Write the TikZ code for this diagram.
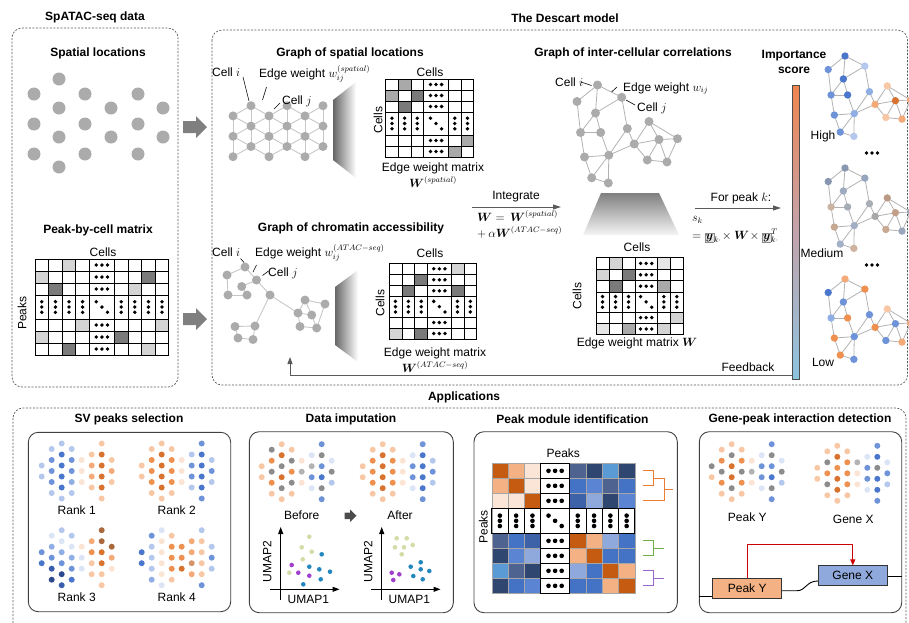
\documentclass[tikz,border=0pt,12pt]{standalone}
\usepackage{amsmath}
\usepackage{fontspec}
\setmainfont{Liberation Sans}
\usetikzlibrary{arrows.meta}

% ---------- palette ----------
\definecolor{bA}{HTML}{DCE5F6}\definecolor{bB}{HTML}{B4C7EC}\definecolor{bC}{HTML}{8FAEE3}
\definecolor{bD}{HTML}{6E93D9}\definecolor{bE}{HTML}{4A76CC}\definecolor{bF}{HTML}{3A5DAE}
\definecolor{bG}{HTML}{2E4A8E}
\definecolor{oA}{HTML}{FCE4D4}\definecolor{oB}{HTML}{F8C8A6}\definecolor{oC}{HTML}{F3AA78}
\definecolor{oD}{HTML}{EE9150}\definecolor{oE}{HTML}{D8722F}\definecolor{oF}{HTML}{A9683E}
\definecolor{oT}{HTML}{D4956C}
\definecolor{gA}{HTML}{8C8C8C}\definecolor{gB}{HTML}{B3B3B3}
% medium-score graph tones
\definecolor{mdA}{HTML}{8B97AE}\definecolor{mdB}{HTML}{97A5BE}\definecolor{mdC}{HTML}{8795B0}
\definecolor{mdD}{HTML}{9EAAC0}\definecolor{mdE}{HTML}{BA9A84}\definecolor{mdF}{HTML}{CDB4A2}
\definecolor{mdG}{HTML}{A7ADB6}\definecolor{mdH}{HTML}{A9ADB4}\definecolor{mdI}{HTML}{A8A8A8}
\definecolor{mdJ}{HTML}{C29F88}\definecolor{mdK}{HTML}{A0A8B8}\definecolor{mdL}{HTML}{C7A893}
\definecolor{mdM}{HTML}{A2AEC4}\definecolor{mdN}{HTML}{C9A993}\definecolor{mdO}{HTML}{9AA6BC}
\definecolor{mdP}{HTML}{A4B0C8}\definecolor{mdQ}{HTML}{CFB29F}
% matrix greys
\definecolor{mxV}{HTML}{E6E6E6}\definecolor{mxL}{HTML}{D4D4D4}\definecolor{mxM}{HTML}{A9A9A9}
\definecolor{mxD}{HTML}{7A7A7A}
% heatmap
\definecolor{hmO}{HTML}{C55A11}\definecolor{hmL}{HTML}{F4B183}\definecolor{hmV}{HTML}{FBE5D6}
\definecolor{hmN}{HTML}{2F4770}\definecolor{hmS}{HTML}{4E6390}\definecolor{hmB}{HTML}{4472C4}
\definecolor{hmM}{HTML}{5B85D2}\definecolor{hmP}{HTML}{8FA9DC}\definecolor{hmT}{HTML}{5B9BD5}
\definecolor{hmD}{HTML}{3D62A8}
% scatter
\definecolor{scO}{HTML}{D5DBA6}\definecolor{scP}{HTML}{A040CC}\definecolor{scT}{HTML}{2388BD}
% misc
\definecolor{arrg}{HTML}{7F7F7F}\definecolor{lineg}{HTML}{5A5A5A}
\definecolor{cbTop}{HTML}{F0854F}\definecolor{cbMid}{HTML}{C3A3AC}\definecolor{cbBot}{HTML}{8CC4E0}
\definecolor{dOr}{HTML}{ED7D31}\definecolor{dGr}{HTML}{70AD47}\definecolor{dPu}{HTML}{9966CC}

\tikzset{
  lbl/.style={inner sep=0pt,font=\normalsize},
  ttl/.style={inner sep=0pt,font=\normalsize\bfseries},
  fml/.style={inner sep=0pt,font=\normalsize,text height=7pt,text depth=1pt},
  dashbox/.style={draw=black!65,dash pattern=on 2pt off 1.5pt,line width=0.7pt,rounded corners=10pt},
  panel/.style={draw=black!75,line width=0.9pt,rounded corners=10pt},
  sedge/.style={draw=black!22,line width=0.9pt},
  cedge/.style={draw=black!30,line width=0.8pt},
  sdot/.style={fill=black!33},
  mline/.style={draw=black,line width=0.8pt},
  hline/.style={draw=black!35,line width=0.4pt},
  leader/.style={draw=black,line width=0.6pt},
  garrow/.style={draw=lineg,line width=1pt,-{Triangle[length=8pt,width=5pt]}},
  genebox/.style={draw=black!80,line width=0.8pt,minimum width=69pt,minimum height=20pt,inner sep=0pt,font=\normalsize},
}

% ---------- grid matrix helpers ----------
\newcommand\matgeom[8]{\def\mx{#1}\def\my{#2}\def\mcw{#3}\def\mdw{#4}\def\mrh{#5}\def\mdh{#6}\def\mnL{#7}\def\mnT{#8}}
\newcommand\cellat[2]{%
  \pgfmathsetmacro\ax{\mx+((#1)-1)*\mcw+(((#1)>\mnL+1)?(\mdw-\mcw):0)}%
  \pgfmathsetmacro\aw{(((#1)==\mnL+1)?\mdw:\mcw)}%
  \pgfmathsetmacro\ay{\my+((#2)-1)*\mrh+(((#2)>\mnT+1)?(\mdh-\mrh):0)}%
  \pgfmathsetmacro\ah{(((#2)==\mnT+1)?\mdh:\mrh)}}
\newcommand\fillcells[1]{\foreach \cc/\rr/\fc in {#1}{\cellat{\cc}{\rr}\fill[\fc] (\ax,\ay) rectangle ++(\aw,\ah);}}
\newcommand\gridcells[3]{\foreach \cc in {1,...,#1}{\foreach \rr in {1,...,#2}{\cellat{\cc}{\rr}\draw[#3] (\ax,\ay) rectangle ++(\aw,\ah);}}}
\newcommand\dotcells[2]{%
  \pgfmathtruncatemacro\dcol{\mnL+1}\pgfmathtruncatemacro\drow{\mnT+1}%
  \foreach \rr in {1,...,#2}{\cellat{\dcol}{\rr}%
    \pgfmathsetmacro\cx{\ax+\aw/2}\pgfmathsetmacro\cy{\ay+\ah/2}%
    \ifnum\rr=\drow
      \foreach \q in {-1,0,1}{\fill (\cx+\q*\mds,\cy+\q*\mdv) circle (\mdr pt);}%
    \else
      \foreach \q in {-1,0,1}{\fill (\cx+\q*\mds,\cy) circle (\mdr pt);}%
    \fi}%
  \foreach \cc in {1,...,#1}{\ifnum\cc=\dcol\else\cellat{\cc}{\drow}%
    \pgfmathsetmacro\cx{\ax+\aw/2}\pgfmathsetmacro\cy{\ay+\ah/2}%
    \foreach \q in {-1,0,1}{\fill (\cx,\cy+\q*\mdv) circle (\mdr pt);}\fi}}

% ---------- spot pattern (34 spots) ----------
\def\spX{{0,0,1,1,1,1,1,2,2,2,2,2,2,3,3,3,3,3,4,4,4,5,5,5,5,6,6,6,6,6,6,7,7,7}}
\def\spY{{-5.5,5.5,-22,-11,0,11,22,-27.5,-16.5,-5.5,5.5,16.5,27.5,-22,-11,0,11,22,-11,0,11,-16.5,-5.5,5.5,16.5,-27.5,-16.5,-5.5,5.5,16.5,27.5,-11,0,11}}
\newcommand\spots[3]{\foreach \cc [count=\k from 0] in {#3}{%
  \pgfmathsetmacro\px{#1+10*\spX[\k]}\pgfmathsetmacro\py{#2+\spY[\k]}%
  \fill[\cc] (\px,\py) circle (3pt);}}

% ---------- correlation graph (17 cells) ----------
\newcommand\corrgraph[4]{%
  \begin{scope}[shift={(#1,#2)},scale=#3]
    \foreach \n/\px/\py in {1/0/0,2/24.2/12.3,3/-20.5/16.5,4/-2/28,5/51.5/36.5,6/-17/47.5,7/3.2/47.5,8/29.8/43.5,9/36.7/59,10/61.5/54.5,11/80/53.7,12/-13/72,13/11.3/70.2,14/49.8/75,15/69.5/77,16/-5.8/92.8,17/10.8/98}
      \coordinate (cg\n) at (\px,\py);
    \foreach \a/\b in {1/2,1/3,1/4,2/4,2/8,3/6,4/6,4/7,6/7,6/12,7/13,8/9,8/13,9/13,12/13,12/16,13/16,13/17,16/17,5/9,5/10,5/11,9/10,10/11,9/14,10/14,10/15,11/15,14/15}
      \draw[cedge] (cg\a) -- (cg\b);
    \foreach \cc [count=\k] in {#4}
      \fill[\cc] (cg\k) circle (4.5pt);
  \end{scope}}

\newcommand\boxy{{\setlength{\fboxsep}{0.5pt}\setlength{\fboxrule}{0.4pt}\fcolorbox{black!45}{black!10}{$\boldsymbol{y}$}}}
\newcommand\ellip[2]{\foreach \q in {-1,0,1}{\fill (#1+\q*5.5,#2) circle (1.9pt);}}

\begin{document}
\begin{tikzpicture}[x=1pt,y=-1pt]
\useasboundingbox (0,0) rectangle (909,622);
\clip (0,0) rectangle (909,622);

% ================= frames and titles =================
\draw[dashbox] (12,28) rectangle (178,387);
\draw[dashbox] (212,30) rectangle (907.5,385);
\draw[dashbox] (13,408) rectangle (906,640);
\node[ttl] (tData) at (95,17) {SpATAC-seq data};
\node[ttl] (tModel) at (565,18) {The Descart model};
\node[ttl] (tApps) at (464,397) {Applications};

% ================= SpATAC-seq data =================
\node[ttl] (tLoc) at (98,53) {Spatial locations};
\foreach \xx/\ys [count=\k] in {34/{94,124,154},59/{79,108,137,167},85/{94,124,154},111/{108,137},138/{94,124,154},163/{108,137}}
  \foreach \yy in \ys \fill[black!33] (\xx,\yy) circle (6.5pt);

\fill[arrg] (183,121) -- (196,121) -- (196,116) -- (207,127) -- (196,138) -- (196,133) -- (183,133) -- cycle;
\fill[arrg] (183,313) -- (196,313) -- (196,308) -- (207,319) -- (196,330) -- (196,325) -- (183,325) -- cycle;

\node[ttl] (tPbc) at (98,230) {Peak-by-cell matrix};
\node[lbl] (pbcCells) at (103,252) {Cells};
\node[lbl,rotate=90] (pbcPeaks) at (22,313) {Peaks};
\matgeom{35}{259}{13.6}{25}{12}{24}{4}{3}
\def\mdr{1.9}\def\mds{5.6}\def\mdv{5.3}
\fillcells{3/1/mxL,1/2/mxL,8/2/mxD,2/3/mxD,7/3/mxL,4/5/mxL,9/5/mxL,1/6/mxL,6/6/mxD,3/7/mxD,8/7/mxL}
\gridcells{9}{7}{mline}
\dotcells{9}{7}

% ================= graph of spatial locations =================
\node[ttl] (tGs) at (350,53) {Graph of spatial locations};
\foreach \cc/\xx in {1/233,3/269,5/305}{\foreach \rr in {1,3,5}{\coordinate (h\cc\rr) at (\xx,105.7+10.2*\rr);}}
\foreach \cc/\xx in {2/251,4/287,6/323}{\foreach \rr in {0,2,4}{\coordinate (h\cc\rr) at (\xx,105.7+10.2*\rr);}}
\foreach \a/\b in {h11/h13,h13/h15,h31/h33,h33/h35,h51/h53,h53/h55,h20/h22,h22/h24,h40/h42,h42/h44,h60/h62,h62/h64}
  \draw[sedge] (\a) -- (\b);
\foreach \cc/\dd in {1/2,3/4,5/6}{\foreach \a/\b in {1/0,1/2,3/2,3/4,5/4}{\draw[sedge] (h\cc\a) -- (h\dd\b);}}
\foreach \cc/\dd in {2/3,4/5}{\foreach \a/\b in {0/1,2/1,2/3,4/3,4/5}{\draw[sedge] (h\cc\a) -- (h\dd\b);}}
\foreach \n in {h11,h13,h15,h20,h22,h24,h31,h33,h35,h40,h42,h44,h51,h53,h55,h60,h62,h64}
  \fill[sdot] (\n) circle (4.5pt);
\node[lbl,anchor=base west] (sCi) at (212,76.5) {Cell $i$};
\node[lbl,anchor=base west] (sEw) at (259,77.5) {Edge weight $w_{ij}^{(spatial)}$};
\node[lbl,anchor=base west] (sCj) at (282,104.5) {Cell $j$};
\draw[leader] (243,77) -- (249,101);
\draw[leader] (266.5,87) -- (262.5,100);
\draw[leader] (280,103) -- (274,109);
\shade[left color=black!60,right color=white] (333,100) -- (356,82) -- (356,178) -- (333,160) -- cycle;

\node[lbl] (wsCells) at (430,72) {Cells};
\node[lbl,rotate=90] (wsCellsL) at (378,120) {Cells};
\matgeom{385.7}{79}{12.6}{25}{11}{23}{3}{3}
\fillcells{2/1/mxM,1/2/mxM,3/2/mxD,2/3/mxD,6/5/mxM,5/6/mxM}
\gridcells{6}{6}{mline}
\dotcells{6}{6}
\node[lbl] (wsLbl) at (433,168) {Edge weight matrix};
\node[lbl] (wsSym) at (433,182) {$\boldsymbol{W}^{(spatial)}$};

% ================= graph of chromatin accessibility =================
\node[ttl] (tGa) at (351,228) {Graph of chromatin accessibility};
\foreach \n/\px/\py in {a/245/267,b/256.5/280,c/227/275,d/228/295,e/241.7/286.5,f/247/295,g/270/295,h/235/326.5,i/255/326,j/238/338,k/253/339.5,l/305/300,m/325/304,n/298/313,o/311.7/315,p/300/326.5,q/316.7/328}
  \coordinate (at\n) at (\px,\py);
\foreach \a/\b in {a/b,a/c,c/d,d/f,f/e,e/b,b/g,g/i,i/h,h/j,j/k,k/i,g/n,n/l,l/m,m/q,q/p,p/n,n/o,o/q,l/o}
  \draw[sedge] (at\a) -- (at\b);
\foreach \n in {a,b,c,d,e,f,g,h,i,j,k,l,m,n,o,p,q}
  \fill[sdot] (at\n) circle (4.5pt);
\node[lbl,anchor=base west] (aCi) at (212,256.5) {Cell $i$};
\node[lbl,anchor=base west] (aEw) at (255,256.5) {Edge weight $w_{ij}^{(ATAC-seq)}$};
\node[lbl,anchor=base west] (aCj) at (268,276.5) {Cell $j$};
\draw[leader] (240.5,258.5) -- (244,262.5);
\draw[leader] (256.5,265) -- (253,272);
\draw[leader] (268.5,271) -- (262.5,275.5);
\shade[left color=black!60,right color=white] (335,287) -- (358,270) -- (358,362) -- (335,345) -- cycle;

\node[lbl] (waCells) at (430,253) {Cells};
\node[lbl,rotate=90] (waCellsL) at (380,303) {Cells};
\matgeom{389}{263.3}{12.9}{23.3}{11}{20.7}{3}{3}
\fillcells{5/1/mxL,3/2/mxD,2/3/mxD,5/3/mxD,1/6/mxL,3/6/mxD}
\gridcells{6}{6}{mline}
\dotcells{6}{6}
\node[lbl] (waLbl) at (435,353) {Edge weight matrix};
\node[lbl] (waSym) at (435,367) {$\boldsymbol{W}^{(ATAC-seq)}$};

% ================= integration =================
\coordinate (intL) at (472,207);
\coordinate (intR) at (561,207);
\draw[garrow] (intL) -- (intR);
\node[lbl] (intTxt) at (516,197) {Integrate};
\node[fml,anchor=base west] (fW1) at (477,221.5) {$\boldsymbol{W}=\,\boldsymbol{W}^{(spatial)}$};
\node[fml,anchor=base west] (fW2) at (477,237.5) {$+\,\alpha\boldsymbol{W}^{(ATAC-seq)}$};

% ================= inter-cellular graph =================
\node[ttl] (tGi) at (633,53) {Graph of inter-cellular correlations};
\corrgraph{597.5}{85}{1}{black!33,black!33,black!33,black!33,black!33,black!33,black!33,black!33,black!33,black!33,black!33,black!33,black!33,black!33,black!33,black!33,black!33}
\node[lbl,anchor=base west] (iCi) at (555,86) {Cell $i$};
\node[lbl,anchor=base west] (iEw) at (623,91) {Edge weight $w_{ij}$};
\node[lbl,anchor=base west] (iCj) at (637,111) {Cell $j$};
\draw[leader] (581,82) -- (591.5,85.5);
\draw[leader] (617,87) -- (611.5,92);
\draw[leader] (635,105) -- (626,100);
\shade[top color=black!50,bottom color=black!4] (601,193) -- (659,193) -- (679,235) -- (583,235) -- cycle;

\node[lbl] (wCells) at (637,247) {Cells};
\node[lbl,rotate=90] (wCellsL) at (577,296) {Cells};
\matgeom{596}{257.7}{13}{22.3}{11.4}{20}{3}{3}
\fillcells{2/1/mxL,5/1/mxV,1/2/mxL,3/2/mxD,2/3/mxD,5/3/mxM,6/5/mxL,1/6/mxV,3/6/mxM,5/6/mxL}
\gridcells{6}{6}{mline}
\dotcells{6}{6}
\node[lbl] (wLbl) at (637,343) {Edge weight matrix $\boldsymbol{W}$};

% ================= importance score =================
\coordinate (pkL) at (695,208);
\coordinate (pkR) at (781,208);
\draw[garrow] (pkL) -- (pkR);
\node[lbl] (pkTxt) at (741,198) {For peak $k$:};
\node[fml,anchor=base west] (fS1) at (692,221.5) {$s_k$};
\node[fml,anchor=base west] (fS2) at (692,239) {$=\boxy_{k\cdot}\!\times\boldsymbol{W}\!\times\boxy^{T}_{k\cdot}$};

\node[ttl,align=center] (tImp) at (794,62) {Importance\\score};
\node[draw=black!70,line width=0.8pt,minimum width=7pt,minimum height=294pt,inner sep=0pt,
      top color=cbTop,bottom color=cbBot,middle color=cbMid] (cbar) at (795.8,232) {};
\node[lbl] (lHigh) at (823,136) {High};
\node[lbl] (lMed) at (822,253) {Medium};
\node[lbl] (lLow) at (823,362) {Low};
\ellip{872}{153}
\ellip{872}{265}

\corrgraph{845}{56}{0.82}{bE,bB,bD,bE,oB,bD,bE,bC,oC,oE,oC,bD,bC,oB,oC,bD,bB}
\corrgraph{845}{168}{0.82}{mdA,mdB,mdC,mdD,mdE,mdF,mdG,mdH,mdI,mdJ,mdK,mdL,mdM,mdN,mdO,mdP,mdQ}
\corrgraph{845}{279}{0.82}{oC,oD,bE,bD,oB,bC,oD,bD,oD,bD,oC,oD,bD,bD,oC,oD,bD}

% feedback loop
\coordinate (fbR) at (cbar.west |- 0,375);
\coordinate (fbL) at (290,375);
\coordinate (fbT) at (290,357);
\draw[draw=lineg,line width=1pt,-{Triangle[length=7pt,width=5pt]}] (fbR) -- (fbL) -- (fbT);
\node[lbl] (fbTxt) at (748,367) {Feedback};

% ================= applications =================
% SV peaks selection
\node[ttl] (tSv) at (129,419.3) {SV peaks selection};
\draw[panel] (28.3,432.3) rectangle (230.7,611.7);
\spots{41.7}{471}{bB,bB, bB,bD,bD,bD,bB, bB,bE,bE,bE,bE,bB, bB,bD,bD,bC,bB, oA,oA,oA, oB,oC,oC,oB, oB,oE,oE,oE,oE,oB, oB,oC,oB}
\spots{141.7}{471}{oB,oB, oB,oD,oD,oD,oB, oB,oE,oE,oE,oE,oB, oB,oD,oD,oD,oB, oA,oA,oA, bB,bD,bD,bB, bD,bE,bE,bE,bE,bD, bB,bD,bB}
\spots{41.7}{557.7}{bD,bE, bA,bC,bD,bF,bG, bB,bA,bC,bD,bG,bF, bB,bA,bC,bD,bE, oA,bA,bA, oC,oD,oB,oB, oF,oF,oE,oE,oB,oB, oF,oC,oA}
\spots{141.7}{557.7}{bE,bE, bD,bB,bB,bB,bC, bA,oA,oA,oA,oA,bA, oB,oD,oD,oD,oB, oD,oD,oE, oC,oC,oT,oC, bB,oB,oB,oB,oB,bD, bB,bD,bB}
\node[lbl] (r1) at (76.7,510) {Rank 1};
\node[lbl] (r2) at (176.7,510) {Rank 2};
\node[lbl] (r3) at (76.7,596.7) {Rank 3};
\node[lbl] (r4) at (176.7,596.7) {Rank 4};

% Data imputation
\node[ttl] (tImpu) at (351,419.3) {Data imputation};
\draw[panel] (249.3,431.7) rectangle (453.3,612.7);
\spots{261.7}{471.7}{oB,oB, gA,oD,gA,oD,oB, oB,oE,gA,oE,gA,oB, oB,gA,oD,gA,oB, oA,gB,oA, bA,gB,bD,bA, bD,gA,bD,bE,gA,bD, bA,gA,bB}
\spots{362.7}{471.7}{oB,oB, oB,oD,oD,oD,oB, oB,oE,oE,oE,oE,oB, oB,oD,oD,oD,oB, oA,oA,oA, bA,bD,bD,bA, bD,bE,bE,bE,bE,bD, bB,bD,bB}
\node[lbl] (lBefore) at (301.7,515.7) {Before};
\node[lbl] (lAfter) at (400,515.7) {After};
\fill[black!70] (344.5,512.5) -- (350,512.5) -- (350,509.5) -- (356.5,515.7) -- (350,522) -- (350,519) -- (344.5,519) -- cycle;
% UMAP panels
\foreach \ox/\tag in {0/a,101/b}{
  \coordinate (ux\tag0) at (270+\ox,589.3);
  \coordinate (ux\tag1) at (339.5+\ox,589.3);
  \coordinate (uy\tag0) at (280.7+\ox,600);
  \coordinate (uy\tag1) at (280.7+\ox,527);
  \draw[line width=1pt,-{Triangle[length=7pt,width=5pt]}] (ux\tag0) -- (ux\tag1);
  \draw[line width=1pt,-{Triangle[length=7pt,width=5pt]}] (uy\tag0) -- (uy\tag1);
  \node[lbl] (u1\tag) at (308.3+\ox,599.5) {UMAP1};
  \node[lbl,rotate=90] (u2\tag) at (267.3+\ox,561.7) {UMAP2};
}
\foreach \px/\py/\fc in {309.3/536.7/scO,301.7/547.3/scO,311.7/551.7/scO,302.7/559.3/scO,289.3/572.7/scO,
  291.7/565/scP,298.3/572.7/scP,309.3/575.7/scP,
  321.7/554.3/scT,309.3/566.7/scT,319.3/569.3/scT,330/571.7/scT,320.7/579.3/scT,303.3/584.3/scT,
  396.7/538.3/scO,406.7/538.3/scO,395/547.3/scO,404/547.3/scO,412.7/545/scO,401.7/554.3/scO,
  391.7/572.7/scP,399.3/574.3/scP,393.3/580/scP,
  420.7/562.3/scT,410.7/566.7/scT,420.7/569.3/scT,429.3/571/scT,413.3/576/scT,422.7/579.3/scT}
  \fill[\fc] (\px,\py) circle (2.3pt);

% Peak module identification
\node[ttl] (tMod) at (572.5,419.3) {Peak module identification};
\draw[panel] (474,431.7) rectangle (677.3,612.7);
\node[lbl] (hmTop) at (563.3,453.3) {Peaks};
\node[lbl,rotate=90] (hmLeft) at (483.3,526.7) {Peaks};
\matgeom{491.7}{463.3}{16.3}{29}{15}{25}{3}{3}
\def\mdr{2.3}\def\mds{6.6}\def\mdv{5.2}
\fillcells{1/1/hmO,2/1/hmL,3/1/hmV,5/1/hmS,6/1/hmN,7/1/hmT,8/1/hmN,
  1/2/hmL,2/2/hmO,3/2/hmV,5/2/hmB,6/2/hmM,7/2/hmS,8/2/hmB,
  1/3/hmV,2/3/hmV,3/3/hmO,5/3/hmD,6/3/hmP,7/3/hmN,8/3/hmM,
  1/5/hmS,2/5/hmB,3/5/hmD,5/5/hmO,6/5/hmL,7/5/hmP,8/5/hmB,
  1/6/hmN,2/6/hmM,3/6/hmP,5/6/hmL,6/6/hmO,7/6/hmB,8/6/hmB,
  1/7/hmT,2/7/hmS,3/7/hmN,5/7/hmP,6/7/hmB,7/7/hmO,8/7/hmL,
  1/8/hmN,2/8/hmB,3/8/hmM,5/8/hmB,6/8/hmB,7/8/hmL,8/8/hmO}
\gridcells{8}{8}{hline}
\foreach \rr in {1,2,3,5,6,7,8}{\cellat{4}{\rr}\draw[mline] (\ax,\ay) rectangle ++(\aw,\ah);}
\foreach \cc in {1,2,3,4,5,6,7,8}{\cellat{\cc}{4}\draw[mline] (\ax,\ay) rectangle ++(\aw,\ah);}
\dotcells{8}{8}
% dendrograms
\draw[dOr,line width=1pt] (642.7,470.8) -- (653.3,470.8) -- (653.3,485.8) -- (642.7,485.8);
\draw[dOr,line width=1pt] (653.3,478.3) -- (664,478.3) -- (664,500.8) -- (642.7,500.8);
\draw[dOr,line width=1pt] (664,489.5) -- (673.3,489.5);
\draw[dGr,line width=1pt] (642.7,540.8) -- (653.3,540.8) -- (653.3,555.8) -- (642.7,555.8);
\draw[dGr,line width=1pt] (653.3,548.3) -- (664,548.3);
\draw[dPu,line width=1pt] (642.7,570.8) -- (653.3,570.8) -- (653.3,585.8) -- (642.7,585.8);
\draw[dPu,line width=1pt] (653.3,578.3) -- (664,578.3);

% Gene-peak interaction detection
\node[ttl] (tGp) at (800,419.3) {Gene-peak interaction detection};
\draw[panel] (699.3,431.7) rectangle (901.7,612.7);
\spots{711.7}{471.7}{gA,oB, oB,oD,gA,oD,oB, oB,gA,oE,oE,gA,oB, oB,oD,gA,oD,oB, oA,gB,oA, bA,bD,bD,bA, bD,gA,bD,bE,gA,bD, bA,gA,bB}
\spots{817.3}{473.3}{oB,oB, oB,gA,oD,gA,oB, oB,oE,oD,oE,oE,oB, oB,oD,oD,oD,oB, gB,oA,oA, bA,bD,bD,bA, bD,bE,gA,bE,bE,bD, bA,bD,bB}
\node[lbl] (lPy) at (747.3,516.7) {Peak Y};
\node[lbl] (lGx) at (853.3,519) {Gene X};
\node[genebox,fill=hmL] (pY) at (747.2,588.3) {Peak Y};
\node[genebox,fill=hmP] (gX) at (852.8,575.8) {Gene X};
\coordinate (dnaL) at (699.3,596);
\coordinate (dnaR) at (901.7,576.7);
\draw[line width=0.9pt] (dnaL) -- (dnaL -| pY.west);
\draw[line width=0.9pt] (pY.east |- 0,590.7) -- (797,590.7) .. controls (806,590.7) and (806,581) .. (gX.west |- 0,581);
\draw[line width=0.9pt] (gX.east |- dnaR) -- (dnaR);
\draw[draw=red!80!black,line width=1pt,-{Triangle[length=6pt,width=5pt]}] (pY.north) -- ++(0,-33.3) -| (gX.north);

\end{tikzpicture}
\end{document}
